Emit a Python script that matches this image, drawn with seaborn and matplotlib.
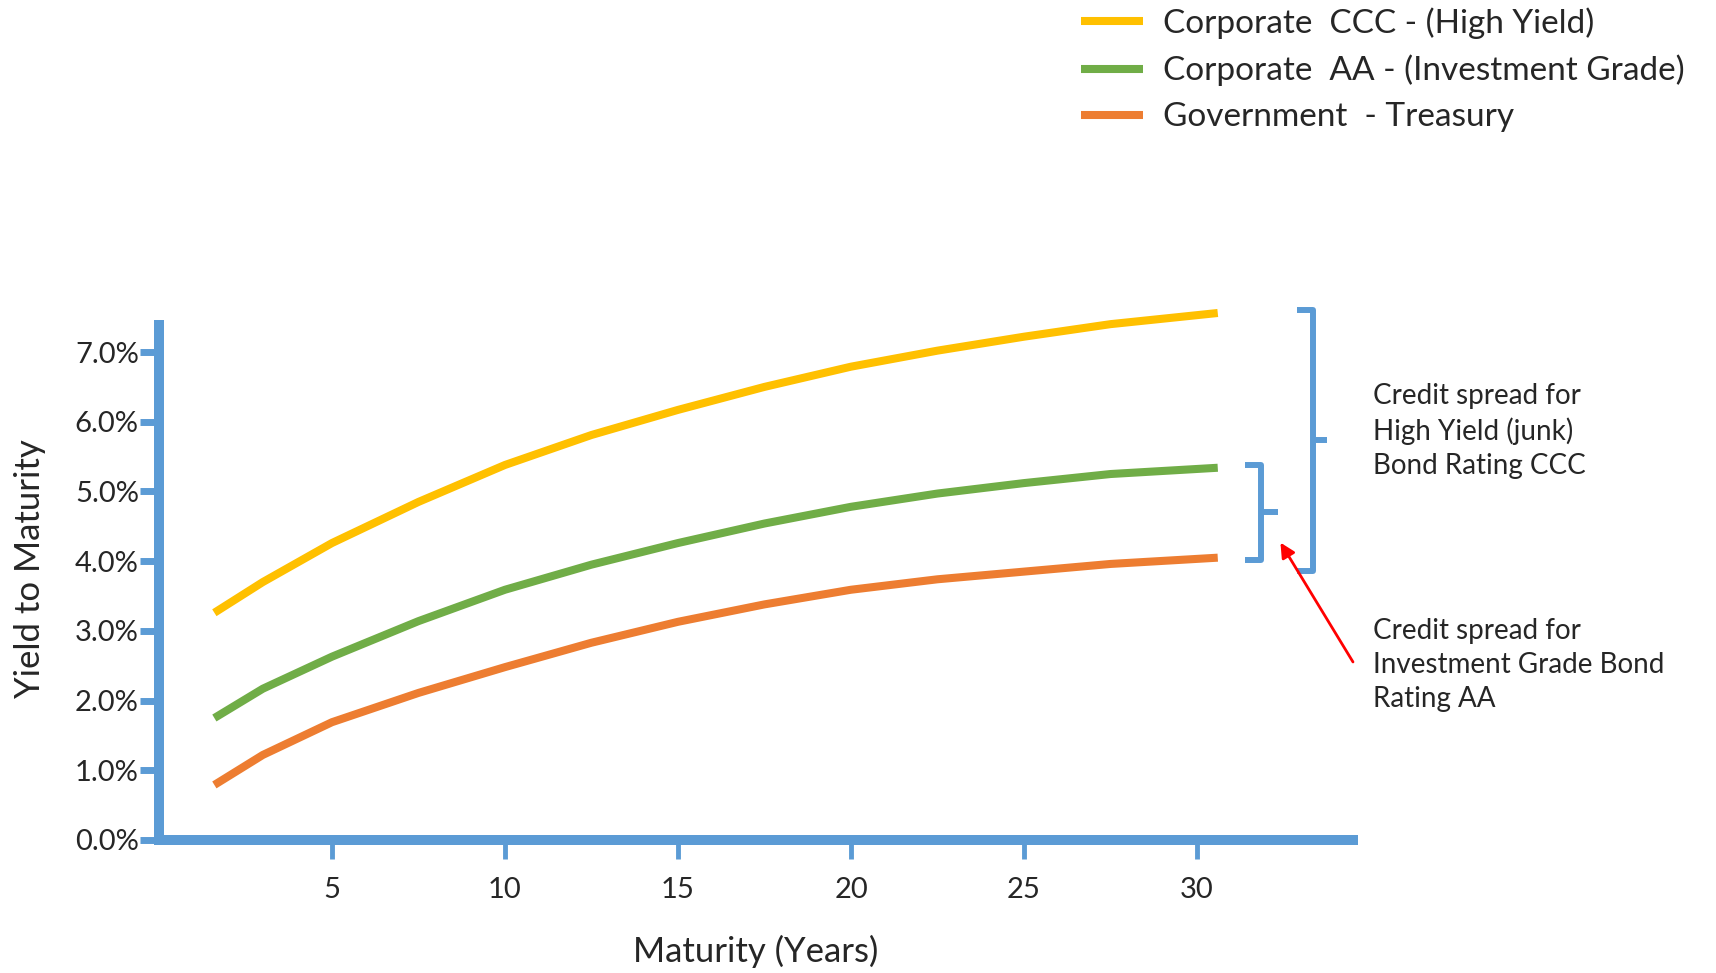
import pandas as pd
import seaborn as sns
import matplotlib.pyplot as plt

# yield curves (maturity in years, yield in %)
maturity   = [1.6, 3, 5, 7.5, 10, 12.5, 15, 17.5, 20, 22.5, 25, 27.5, 30.6]
ccc_yield  = [3.26, 3.70, 4.26, 4.85, 5.38, 5.81, 6.17, 6.50, 6.79, 7.02, 7.22, 7.40, 7.56]
aa_yield   = [1.75, 2.17, 2.63, 3.14, 3.59, 3.95, 4.26, 4.54, 4.78, 4.97, 5.12, 5.25, 5.34]
tsy_yield  = [0.79, 1.22, 1.69, 2.11, 2.48, 2.83, 3.13, 3.38, 3.59, 3.74, 3.85, 3.96, 4.05]

series_names = ["Corporate  CCC - (High Yield)",
                "Corporate  AA - (Investment Grade)",
                "Government  - Treasury"]
series_colors = ["#FFC000", "#70AD47", "#ED7D31"]

x_ticks = [5, 10, 15, 20, 25, 30]
y_ticks = [0, 1, 2, 3, 4, 5, 6, 7]

hy_note = "Credit spread for\nHigh Yield (junk)\nBond Rating CCC"
ig_note = "Credit spread for\nInvestment Grade Bond\nRating AA"

axis_blue = "#5B9BD5"

sns.set_style("white")
plt.rcParams['font.family'] = ['Lato', 'DejaVu Sans']

df = pd.DataFrame({
    "maturity": maturity * 3,
    "ytm": ccc_yield + aa_yield + tsy_yield,
    "series": [series_names[0]] * len(maturity)
              + [series_names[1]] * len(maturity)
              + [series_names[2]] * len(maturity),
})

fig = plt.figure(figsize=(17.16, 9.73), dpi=100)
ax = fig.add_axes([159 / 1716, 133 / 973, 1557 / 1716, 840 / 973])

sns.lineplot(data=df, x="maturity", y="ytm", hue="series",
             hue_order=series_names, palette=dict(zip(series_names, series_colors)),
             lw=5.8, ax=ax, legend=True, solid_capstyle="butt")

ax.set_xlim(0, 45.0)
ax.set_ylim(0, 12.05)

#axes drawn as thick blue lines
for side in ["top", "right"]:
    ax.spines[side].set_visible(False)
for side in ["left", "bottom"]:
    ax.spines[side].set_color(axis_blue)
    ax.spines[side].set_linewidth(7.2)
    ax.spines[side].set_capstyle("projecting")
ax.spines["left"].set_bounds(0, 7.39)
ax.spines["bottom"].set_bounds(0, 34.5)

ax.set_xticks(x_ticks)
ax.set_yticks(y_ticks)
ax.set_yticklabels([f"{v:.1f}%" for v in y_ticks])
ax.tick_params(axis="y", direction="out", length=13.5, width=5, color=axis_blue,
               pad=1, labelsize=21, left=True)
ax.tick_params(axis="x", direction="out", length=13.5, width=3.5, color=axis_blue,
               pad=13, labelsize=21, bottom=True)

ax.set_xlabel("Maturity (Years)", fontsize=25)
ax.xaxis.set_label_coords(0.383, -0.133)
ax.xaxis.label.set_va("center")
ax.set_ylabel("Yield to Maturity", fontsize=25)
ax.yaxis.set_label_coords(-0.083, 0.323)
ax.yaxis.label.set_va("center")

#legend top right
handles, labels = ax.get_legend_handles_labels()
ax.legend_.remove()
fig.legend(handles, labels, loc="upper left", bbox_to_anchor=(1081 / 1716, 1 - 7 / 973),
           frameon=False, fontsize=24, handlelength=1.85, handletextpad=0.6,
           labelspacing=0.48, borderpad=0, borderaxespad=0)

#brackets marking the spreads at the long end
def bracket(x_v, x_hook, x_tip, lo, hi):
    ax.plot([x_hook, x_v, x_v, x_hook], [hi, hi, lo, lo], color=axis_blue, lw=4.3,
            solid_joinstyle="round", solid_capstyle="butt", clip_on=False)
    mid = (lo + hi) / 2
    ax.plot([x_v, x_tip], [mid, mid], color=axis_blue, lw=4.3,
            solid_capstyle="butt", clip_on=False)
    return mid

bracket(33.35, 32.9, 33.75, tsy_yield[-1] - 0.19, ccc_yield[-1] + 0.05)
aa_mid = bracket(31.85, 31.4, 32.35, tsy_yield[-1] - 0.03, aa_yield[-1] + 0.04)

ax.text(35.1, 5.87, hy_note, fontsize=20, va="center", ha="left", linespacing=1.38)
ax.text(35.1, 2.51, ig_note, fontsize=20, va="center", ha="left", linespacing=1.38)
ax.annotate("", xy=(32.37, aa_mid - 0.4), xytext=(34.55, 2.52),
            arrowprops=dict(arrowstyle="-|>", color="red", lw=2, mutation_scale=22))

plt.savefig("out.png", dpi=100)
